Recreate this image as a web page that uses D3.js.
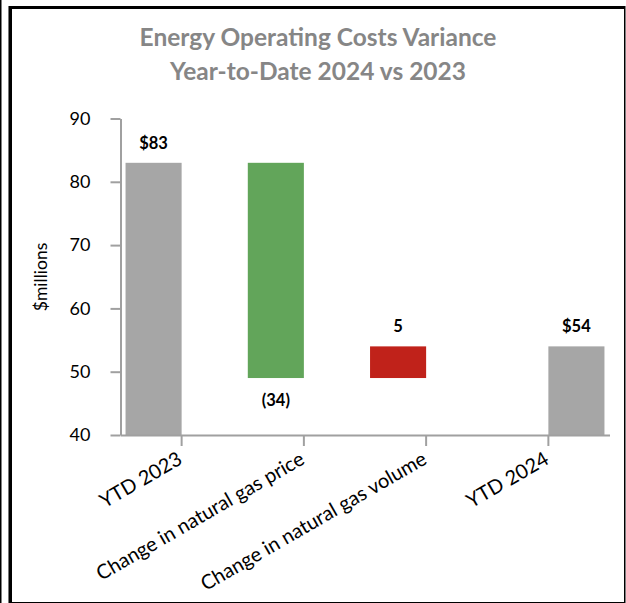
<!DOCTYPE html>
<html>
<head>
<meta charset="utf-8">
<script src="https://cdn.jsdelivr.net/npm/d3@7"></script>
<style>
  body { margin: 0; background: #fff; }
  svg { display: block; font-family: Lato, "Open Sans", sans-serif; }
</style>
</head>
<body>
<div id="chart"></div>
<script>
// Chart data
const categories = ["YTD 2023", "Change in natural gas price", "Change in natural gas volume", "YTD 2024"];
const changes = [83, -34, 5, 54];          // totals for YTD bars, deltas for the rest
const kinds = ["total", "decrease", "increase", "total"];
const clusterSeries = ["A", "A", "A", "B"]; // Excel-style two series in each slot
const valueLabels = ["$83", "(34)", "5", "$54"];
const yTicks = [40, 50, 60, 70, 80, 90];
const titleLines = ["Energy Operating Costs Variance", "Year-to-Date 2024 vs 2023"];

const colors = {total: "#a6a6a6", decrease: "#62a55a", increase: "#c0221a"};

const full_width = 626, full_height = 603;
const margin = {top: 118.5, bottom: 168, left: 120.5, right: 16.5};

const svg = d3.select('#chart')
  .append('svg')
    .attr('width', full_width)
    .attr('height', full_height);

// Frame lines
svg.append('line').attr('x1', 0.75).attr('x2', 0.75).attr('y1', 0).attr('y2', full_height)
  .attr('stroke', '#000').attr('stroke-width', 1.5);
svg.append('line').attr('x1', 8.5).attr('x2', 8.5).attr('y1', 6).attr('y2', full_height)
  .attr('stroke', '#777').attr('stroke-width', 1);
svg.append('line').attr('x1', 10.5).attr('x2', 10.5).attr('y1', 6).attr('y2', full_height)
  .attr('stroke', '#000').attr('stroke-width', 3);
svg.append('line').attr('x1', 9).attr('x2', 625).attr('y1', 7.5).attr('y2', 7.5)
  .attr('stroke', '#000').attr('stroke-width', 3);
svg.append('line').attr('x1', 624.75).attr('x2', 624.75).attr('y1', 6).attr('y2', full_height)
  .attr('stroke', '#000').attr('stroke-width', 1.5);
svg.append('line').attr('x1', 9).attr('x2', 625).attr('y1', 602.5).attr('y2', 602.5)
  .attr('stroke', '#000').attr('stroke-width', 1);

// Title
svg.append('text')
  .attr('x', 318).attr('y', 46)
  .attr('text-anchor', 'middle')
  .attr('font-size', '24.5px').attr('font-weight', 'bold')
  .attr('fill', '#868686')
  .selectAll('tspan')
  .data(titleLines)
  .enter()
  .append('tspan')
    .attr('x', 318)
    .attr('dy', (d, i) => i ? 34 : 0)
    .text(d => d);

// Waterfall bases
let running = 0;
const bars = categories.map((c, i) => {
  let lo, hi;
  if (kinds[i] === "total") {
    running = changes[i];
    lo = yTicks[0]; hi = changes[i];
  } else {
    const prev = running;
    running += changes[i];
    lo = Math.min(prev, running); hi = Math.max(prev, running);
  }
  return {cat: c, lo, hi, kind: kinds[i], series: clusterSeries[i], label: valueLabels[i]};
});

const x = d3.scaleBand()
  .domain(categories)
  .range([margin.left, full_width - margin.right]);
const xSub = d3.scaleBand()
  .domain(["A", "B"])
  .range([0, x.bandwidth()])
  .paddingOuter(0.09);
const y = d3.scaleLinear()
  .domain([yTicks[0], yTicks[yTicks.length - 1]])
  .range([full_height - margin.bottom, margin.top]);

// Bars
svg.append('g')
  .selectAll('rect')
  .data(bars)
  .enter()
  .append('rect')
    .attr('x', d => x(d.cat) + xSub(d.series))
    .attr('y', d => y(d.hi))
    .attr('width', xSub.bandwidth())
    .attr('height', d => y(d.lo) - y(d.hi))
    .attr('fill', d => colors[d.kind]);

// Value labels
svg.append('g')
  .selectAll('text')
  .data(bars)
  .enter()
  .append('text')
    .attr('x', d => x(d.cat) + xSub(d.series) + xSub.bandwidth() / 2)
    .attr('y', d => d.kind === "decrease" ? y(d.lo) + 28 : y(d.hi) - 14)
    .attr('text-anchor', 'middle')
    .attr('font-size', '16.5px').attr('font-weight', 'bold')
    .attr('fill', '#000')
    .text(d => d.label);

// Axes
const axisColor = '#a0a0a0';
const yAxis = svg.append('g')
  .attr('transform', 'translate(' + margin.left + ',0)')
  .call(d3.axisLeft(y).tickValues(yTicks).tickSize(10).tickPadding(20).tickSizeOuter(0));
const xAxis = svg.append('g')
  .attr('transform', 'translate(0,' + y(yTicks[0]) + ')')
  .call(d3.axisBottom(x).tickSize(11).tickSizeOuter(0).tickFormat(''));

[yAxis, xAxis].forEach(a => {
  a.select('.domain').attr('stroke', axisColor).attr('stroke-width', 2);
  a.selectAll('.tick line').attr('stroke', axisColor).attr('stroke-width', 2);
});
yAxis.selectAll('.tick text')
  .attr('font-size', '18px').attr('font-family', 'Lato, sans-serif').attr('fill', '#000');

// Rotated category labels
svg.append('g')
  .selectAll('text')
  .data(categories)
  .enter()
  .append('text')
    .attr('transform', d => 'translate(' + (x(d) + x.bandwidth() / 2 + 2) + ',' + (y(yTicks[0]) + 28) + ') rotate(-30)')
    .attr('text-anchor', 'end')
    .attr('font-size', '20px')
    .attr('fill', '#000')
    .text(d => d);

// Y axis title
svg.append('text')
  .attr('transform', 'translate(47,277) rotate(-90)')
  .attr('text-anchor', 'middle')
  .attr('font-size', '17.5px')
  .attr('fill', '#000')
  .text('$millions');
</script>
</body>
</html>
